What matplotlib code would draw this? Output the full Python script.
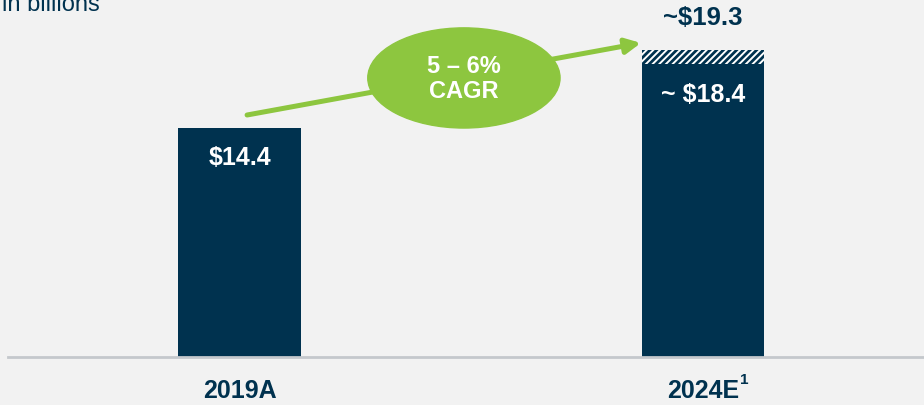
import matplotlib
matplotlib.use("Agg")
import matplotlib.pyplot as plt
from matplotlib.patches import Ellipse

categories = ["2019A", "2024E"]
category_notes = ["", "1"]
base_values = [14.4, 18.4]
upside_values = [0.0, 0.9]   # 18.4 -> ~19.3
bar_labels = ["$14.4", "~ $18.4"]
top_labels = ["", "~$19.3"]
cagr_text = "5 – 6%\nCAGR"
unit_text = "in billions"

NAVY = "#00324F"
GREEN = "#8DC63F"
BG = "#F2F2F2"

plt.rcParams["font.family"] = ["Liberation Sans", "DejaVu Sans"]
plt.rcParams["hatch.linewidth"] = 2.0
plt.rcParams["hatch.color"] = NAVY

fig = plt.figure(figsize=(9.24, 4.06), dpi=100, facecolor=BG)
ax = fig.add_axes([8 / 924, 48 / 406, 916 / 924, 358 / 406])
ax.set_facecolor(BG)

x = list(range(len(categories)))
width = 0.265
ax.bar(x, base_values, width=width, color=NAVY, zorder=2)
ax.bar(x, upside_values, width=width, bottom=base_values, color="white",
       edgecolor=NAVY, hatch="/////", linewidth=0, zorder=2)

ax.set_xlim(-0.5, 1.477)
ax.set_ylim(0, 358 / 15.9)

for i in x:
    ax.text(i, base_values[i] - 1.85, bar_labels[i], ha="center", va="center",
            color="white", fontsize=18, fontweight="bold", zorder=3)
    if top_labels[i]:
        tot = base_values[i] + upside_values[i]
        ax.text(i, tot + 2.1, top_labels[i], ha="center", va="center",
                color=NAVY, fontsize=18.5, fontweight="bold", zorder=3)

# axis baseline
for s in ["top", "right", "left"]:
    ax.spines[s].set_visible(False)
ax.spines["bottom"].set_color("#C4C8CC")
ax.spines["bottom"].set_linewidth(2)
ax.set_yticks([])
ax.set_xticks(x)
ax.set_xticklabels([])
ax.tick_params(axis="x", length=0)

for i in x:
    t = ax.text(i, -2.08, categories[i], ha="center", va="center", color=NAVY,
                fontsize=18, fontweight="bold", clip_on=False)
    if category_notes[i]:
        ax.annotate(category_notes[i], xy=(1.0, 0.55), xycoords=t,
                    xytext=(0.5, 2), textcoords="offset points",
                    ha="left", va="bottom", color=NAVY, fontsize=11,
                    fontweight="bold")

# CAGR arrow and bubble
ax.annotate("", xy=(0.866, 19.75), xytext=(0.016, 15.22),
            arrowprops=dict(arrowstyle="-|>,head_length=0.9,head_width=0.45",
                            color=GREEN, lw=3.6, shrinkA=0, shrinkB=0),
            zorder=4)
ax.add_patch(Ellipse((0.484, 17.55), 0.415, 6.3, color=GREEN, zorder=5))
ax.text(0.484, 17.55, cagr_text, ha="center", va="center", color="white",
        fontsize=17, fontweight="bold", linespacing=1.15, zorder=6)

fig.text(2 / 924, 1 - 11 / 406, unit_text, ha="left", va="baseline",
         color=NAVY, fontsize=17)

fig.savefig("out.png", dpi=100, facecolor=BG)
